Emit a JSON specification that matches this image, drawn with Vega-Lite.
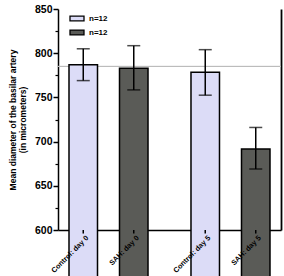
{
  "$schema": "https://vega.github.io/schema/vega-lite/v6.json",
  "width": 223,
  "height": 221,
  "autosize": "none",
  "padding": {"left": 58, "top": 9, "right": 3, "bottom": 46},
  "background": "white",
  "data": {
    "values": [
      {"label": "Control: day 0", "day": "day 0", "group": "Control", "mean": 787, "lo": 769, "hi": 805},
      {"label": "SAH: day 0", "day": "day 0", "group": "SAH", "mean": 783, "lo": 758.5, "hi": 808.5},
      {"label": "Control: day 5", "day": "day 5", "group": "Control", "mean": 778.5, "lo": 752.5, "hi": 804},
      {"label": "SAH: day 5", "day": "day 5", "group": "SAH", "mean": 691.5, "lo": 669, "hi": 716}
    ]
  },
  "encoding": {
    "x": {
      "field": "day",
      "type": "nominal",
      "scale": {"paddingInner": 0.2, "paddingOuter": 0.014},
      "axis": {"labels": false, "ticks": false, "title": null, "domainColor": "black", "domainWidth": 1.5}
    },
    "xOffset": {
      "field": "group",
      "type": "nominal",
      "scale": {"paddingInner": 0.4356, "paddingOuter": 0.184}
    }
  },
  "layer": [
    {
      "mark": {"type": "rule", "color": "#bdbdbd", "strokeWidth": 1},
      "encoding": {
        "x": null,
        "xOffset": null,
        "y": {
          "datum": 785,
          "type": "quantitative",
          "scale": {"domain": [600, 850], "nice": false, "zero": false},
          "axis": {
            "orient": "left",
            "values": [625, 675, 725, 775, 825],
            "labels": false,
            "domain": false,
            "grid": false,
            "tickSize": 3,
            "tickWidth": 1.2,
            "tickColor": "black",
            "title": null
          }
        }
      }
    },
    {
      "mark": {"type": "bar", "stroke": "black", "strokeWidth": 1.5},
      "encoding": {
        "y": {
          "field": "mean",
          "type": "quantitative",
          "scale": {"domain": [600, 850], "nice": false, "zero": false},
          "axis": {
            "orient": "left",
            "values": [600, 650, 700, 750, 800, 850],
            "grid": false,
            "domainColor": "black",
            "domainWidth": 1.5,
            "tickColor": "black",
            "tickWidth": 1.5,
            "tickSize": 5,
            "labelFont": "Liberation Sans",
            "labelFontWeight": "bold",
            "labelFontSize": 10.5,
            "labelColor": "black",
            "labelPadding": 1,
            "title": ["Mean diameter of the basilar artery", "(in micrometers)"],
            "titleFont": "Liberation Sans",
            "titleFontWeight": "bold",
            "titleFontSize": 8.5,
            "titleLineHeight": 10,
            "titleColor": "black",
            "titlePadding": 7
          }
        },
        "fill": {
          "field": "group",
          "type": "nominal",
          "scale": {"domain": ["Control", "SAH"], "range": ["#dcdcf7", "#5a5b57"]},
          "legend": {
            "orient": "none",
            "legendX": 11,
            "legendY": 1.5,
            "title": null,
            "padding": 0,
            "rowPadding": 0,
            "symbolType": "M-1,-0.35H1V0.35H-1Z",
            "symbolSize": 196,
            "symbolStrokeColor": "black",
            "symbolStrokeWidth": 1.3,
            "labelExpr": "'n=12'",
            "labelFont": "Liberation Sans",
            "labelFontWeight": "bold",
            "labelFontSize": 8,
            "labelColor": "black",
            "labelOffset": 4
          }
        }
      }
    },
    {
      "mark": {"type": "rule", "color": "black", "strokeWidth": 1.5},
      "encoding": {
        "y": {
          "field": "lo",
          "type": "quantitative",
          "scale": {"domain": [600, 850], "nice": false, "zero": false},
          "axis": {
            "orient": "right",
            "labels": false,
            "ticks": false,
            "grid": false,
            "domainColor": "black",
            "domainWidth": 1.8,
            "title": null
          }
        },
        "y2": {"field": "hi"}
      }
    },
    {
      "mark": {"type": "tick", "color": "black", "thickness": 1.5, "size": 13},
      "encoding": {
        "y": {"field": "lo", "type": "quantitative", "scale": {"domain": [600, 850], "nice": false, "zero": false}, "axis": null}
      }
    },
    {
      "mark": {"type": "tick", "color": "black", "thickness": 1.5, "size": 13},
      "encoding": {
        "y": {"field": "hi", "type": "quantitative", "scale": {"domain": [600, 850], "nice": false, "zero": false}, "axis": null}
      }
    },
    {
      "mark": {"type": "rule", "color": "black", "strokeWidth": 1.5},
      "encoding": {
        "y": {"datum": 600, "type": "quantitative", "scale": {"domain": [600, 850], "nice": false, "zero": false}, "axis": null},
        "y2": {"datum": 596}
      }
    },
    {
      "mark": {
        "type": "text",
        "angle": 315,
        "align": "right",
        "baseline": "middle",
        "dx": -2,
        "dy": 8,
        "font": "Liberation Sans",
        "fontWeight": "bold",
        "fontSize": 7.3,
        "color": "black"
      },
      "encoding": {
        "y": {"datum": 600, "type": "quantitative", "scale": {"domain": [600, 850], "nice": false, "zero": false}, "axis": null},
        "text": {"field": "label"}
      }
    }
  ],
  "resolve": {"axis": {"y": "independent"}},
  "config": {
    "view": {"stroke": null},
    "font": "Liberation Sans"
  }
}
